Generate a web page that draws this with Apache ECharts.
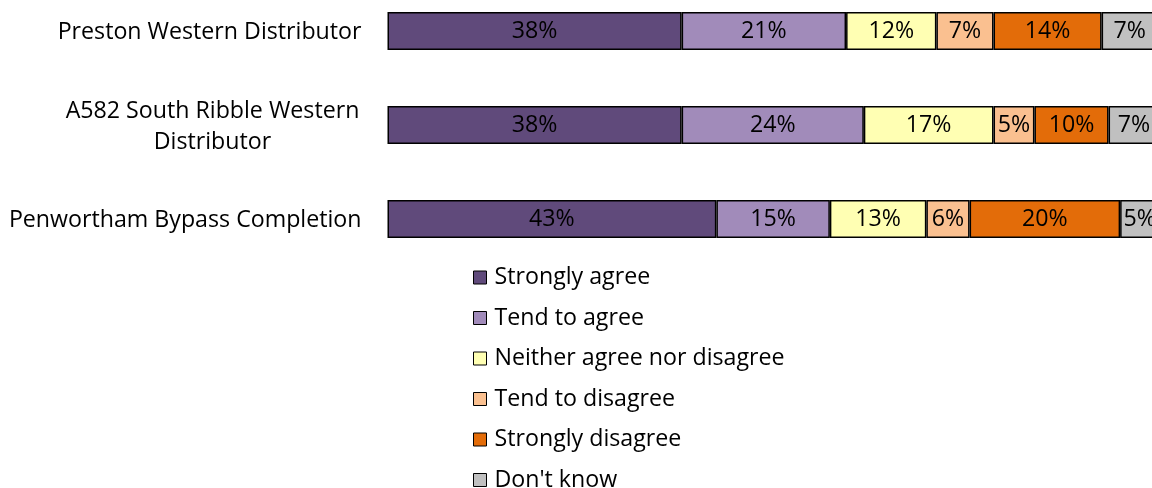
<!DOCTYPE html>
<html>
<head>
<meta charset="utf-8">
<script src="https://cdn.jsdelivr.net/npm/echarts@6/dist/echarts.min.js"></script>
<style>
    html, body { margin: 0; padding: 0; background: #fff; }
    #chart { width: 1152px; height: 488px; }
</style>
</head>
<body>
<div id="chart"></div>
<script>
// categories (top to bottom)
var categories = ['Preston Western Distributor', 'A582 South Ribble Western\nDistributor', 'Penwortham Bypass Completion'];

// percentages
var stronglyAgree = [38.1, 38.1, 42.6];
var tendToAgree = [21.3, 23.6, 14.7];
var neither = [11.7, 16.8, 12.5];
var tendToDisagree = [7.4, 5.3, 5.6];
var stronglyDisagree = [14.0, 9.6, 19.5];
var dontKnow = [7.3, 6.6, 5.1];

var seriesNames = ['Strongly agree', 'Tend to agree', 'Neither agree nor disagree', 'Tend to disagree', 'Strongly disagree', "Don't know"];
var seriesData = [stronglyAgree, tendToAgree, neither, tendToDisagree, stronglyDisagree, dontKnow];
var colors = ['#604A7B', '#A18BBA', '#FFFFB3', '#FAC090', '#E36C09', '#C0C0C0'];

var font = 'Open Sans';
var fsize = 23.2;

window.onload = function () {
    var myChart = echarts.init(document.getElementById('chart'));

    var series = [];
    for (var i = 0; i < seriesNames.length; i++) {
        series.push({
            name: seriesNames[i],
            type: 'bar',
            stack: 'total',
            barWidth: 38,
            data: seriesData[i],
            itemStyle: { color: colors[i], borderColor: '#000', borderWidth: 1.5 },
            label: {
                show: true,
                position: 'inside',
                color: '#000',
                fontFamily: font,
                fontSize: fsize,
                padding: [3, 0, 0, 0],
                formatter: function (p) { return Math.round(p.value) + '%'; }
            }
        });
    }

    var option = {
        animation: false,
        color: colors,
        grid: { left: 387.5, width: 772, top: -16, height: 282, outerBoundsMode: 'none', containLabel: false },
        xAxis: {
            type: 'value', min: 0, max: 100, show: false
        },
        yAxis: {
            type: 'category',
            inverse: true,
            data: categories,
            axisLine: { show: false },
            axisTick: { show: false },
            splitLine: { show: false },
            axisLabel: {
                margin: 26,
                color: '#000',
                fontFamily: font,
                fontSize: fsize,
                lineHeight: 31,
                padding: [3, 0, 0, 0],
                formatter: function (v) {
                    if (v.indexOf('\n') < 0) return v;
                    return v.split('\n').map(function (s) { return '{c|' + s + '}'; }).join('\n');
                },
                rich: {
                    c: { width: 298, align: 'center', fontFamily: font, fontSize: fsize, lineHeight: 31, color: '#000' }
                }
            }
        },
        legend: {
            orient: 'vertical',
            left: 473,
            top: 266,
            height: 240,
            padding: 0,
            itemWidth: 13,
            itemHeight: 13,
            itemGap: 17.5,
            icon: 'rect',
            itemStyle: { borderColor: '#000', borderWidth: 1 },
            textStyle: { fontFamily: font, fontSize: fsize, color: '#000', padding: [0, 0, 0, 3] },
            data: seriesNames
        },
        series: series
    };
    myChart.setOption(option);
};
</script>
</body>
</html>
